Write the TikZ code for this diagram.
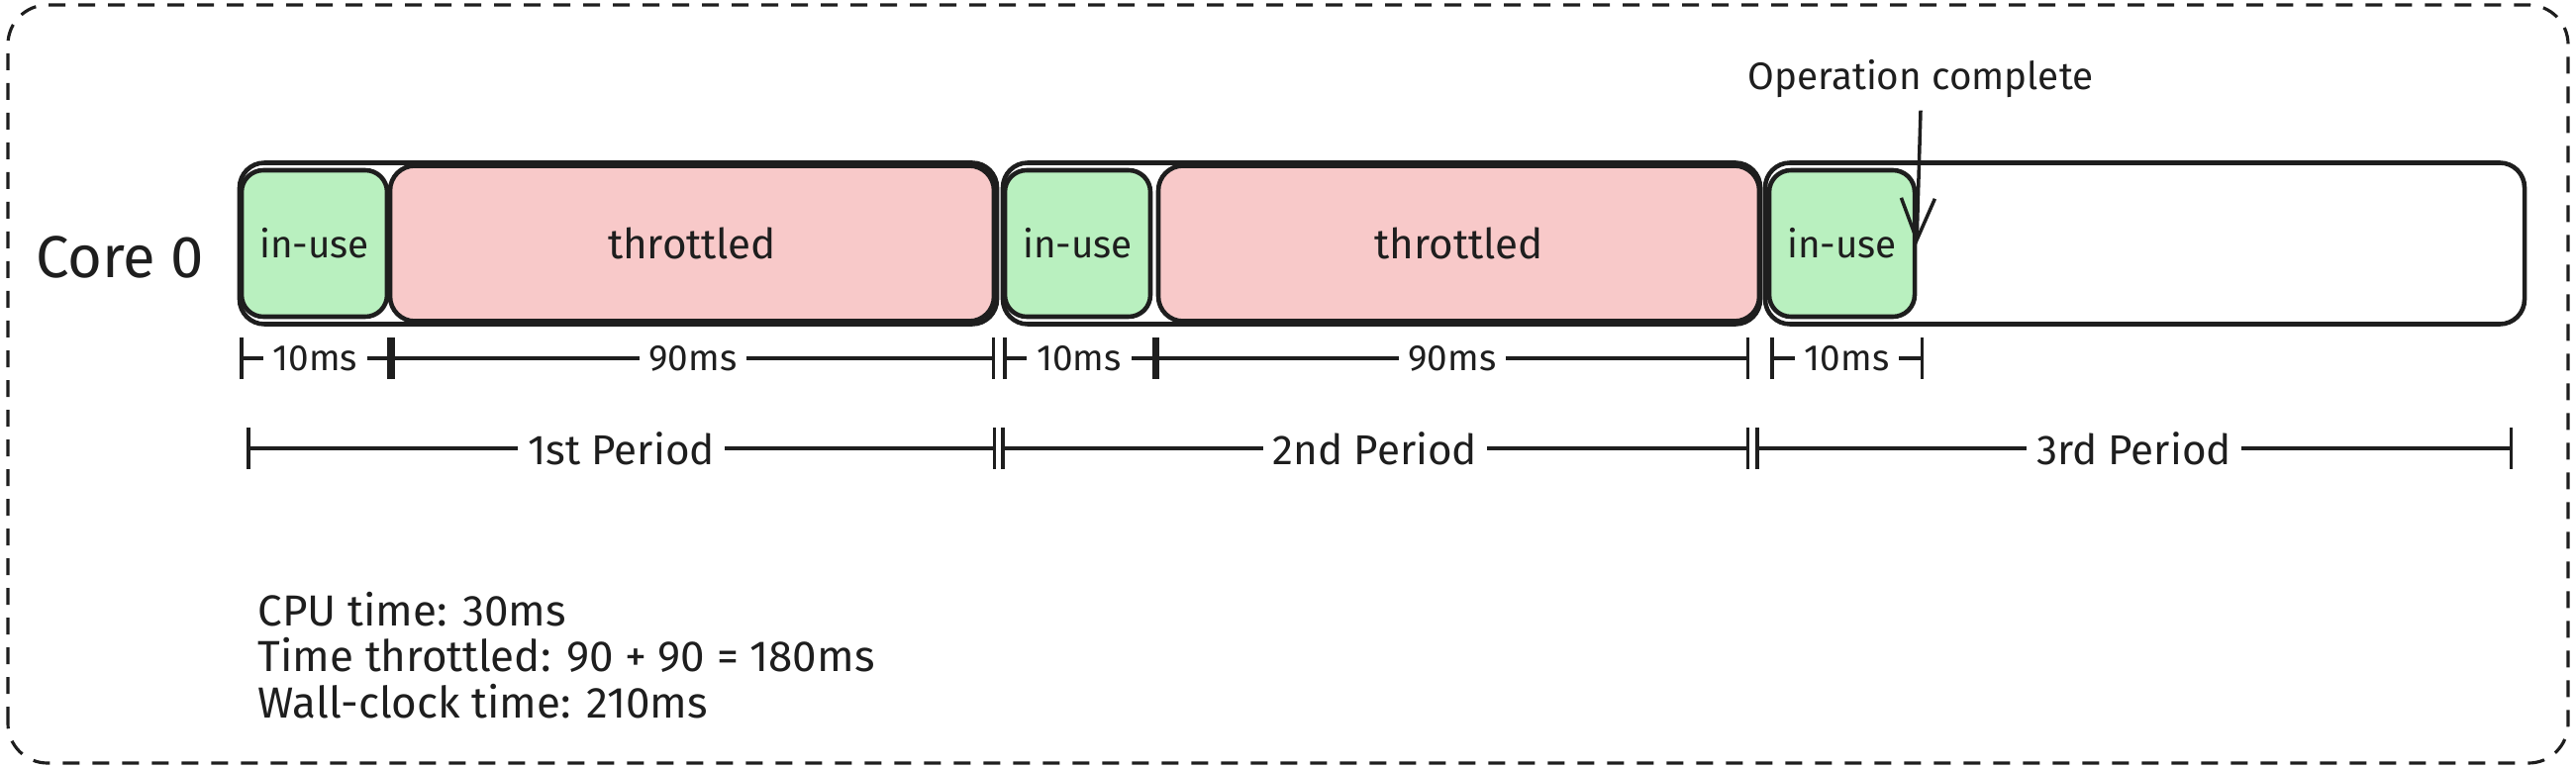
\documentclass[tikz,border=0pt]{standalone}
\usepackage{fontspec}
\setmainfont{Fira Sans}
\usetikzlibrary{arrows.meta,positioning}
\definecolor{ink}{HTML}{1E1E1E}
\definecolor{usegreen}{HTML}{B9F0BF}
\definecolor{throtred}{HTML}{F8C9C9}

\begin{document}
\begin{tikzpicture}[font=\fontsize{12}{13.2}\selectfont]

\tikzstyle{period} = [rectangle, rounded corners=0.25cm, minimum height=1.63cm, minimum width=7.65cm, outer sep=0pt, draw=ink, line width=1.3pt]
\tikzstyle{inuse} = [rectangle, rounded corners=0.22cm, minimum height=1.48cm, minimum width=1.47cm, outer sep=0pt, draw=ink, fill=usegreen, line width=1.3pt, text=ink, font=\fontsize{11}{13}\selectfont]
\tikzstyle{throt} = [rectangle, rounded corners=0.25cm, minimum height=1.57cm, minimum width=6.1cm, outer sep=0pt, draw=ink, fill=throtred, line width=1.3pt, text=ink]
\tikzstyle{dim} = [draw=ink, line width=1pt, {Bar[width=0.42cm]}-{Bar[width=0.42cm]}]
\tikzstyle{lbl} = [fill=white, inner sep=0.1cm, text=ink]
\tikzstyle{mslbl} = [lbl, font=\fontsize{10.5}{12}\selectfont]
\useasboundingbox (0,0) rectangle (26.02,7.76);
\draw[ink, line width=0.9pt, dash pattern=on 0.17cm off 0.13cm, rounded corners=0.4cm] (0.08,0.05) rectangle (25.94,7.71);

\node (p1) [period] at (6.245,5.30) {};
\node (p2) [period, right=0.06cm of p1] {};
\node (p3) [period, right=0.05cm of p2, minimum width=7.67cm] {};
\node (u1) [inuse, anchor=west] at ([xshift=0.02cm]p1.west) {in-use};
\node (t1) [throt, right=0.03cm of u1] {throttled};
\node (u2) [inuse, anchor=west] at ([xshift=0.02cm]p2.west) {in-use};
\node (t2) [throt, right=0.08cm of u2, minimum width=6.07cm] {throttled};
\node (u3) [inuse, anchor=west] at ([xshift=0.04cm]p3.west) {in-use};
\node (core) [left=0.35cm of p1, yshift=-0.14cm, inner sep=0pt, text=ink, font=\fontsize{17}{20}\selectfont] {Core 0};

% operation marker
\node (op) [text=ink, font=\fontsize{11}{13}\selectfont] at (19.40,6.96) {Operation complete};
\coordinate (done) at (19.36,5.29);
\draw[ink, line width=1pt, -{Straight Barb[length=0.42cm, width=0.34cm]}] (op.south) -- (done);

% slice lengths
\coordinate (r1a) at (2.42,4.14);
\coordinate (r1b) at (3.95,4.14);
\coordinate (r1c) at (10.05,4.14);
\coordinate (r1d) at (10.13,4.14);
\coordinate (r1e) at (11.67,4.14);
\coordinate (r1f) at (17.67,4.14);
\coordinate (r1g) at (17.88,4.14);
\coordinate (r1h) at (19.43,4.14);
\draw[dim] (r1a) -- node[mslbl] {10ms} (r1b);
\draw[dim] (r1b) -- node[mslbl] {90ms} (r1c);
\draw[dim] (r1d) -- node[mslbl] {10ms} (r1e);
\draw[dim] (r1e) -- node[mslbl] {90ms} (r1f);
\draw[dim] (r1g) -- node[mslbl] {10ms} (r1h);

% periods
\coordinate (r2a) at (2.49,3.23);
\coordinate (r2b) at (10.06,3.23);
\coordinate (r2c) at (10.11,3.23);
\coordinate (r2d) at (17.67,3.23);
\coordinate (r2e) at (17.73,3.23);
\coordinate (r2f) at (25.38,3.23);
\draw[dim] (r2a) -- node[lbl] {1st Period} (r2b);
\draw[dim] (r2c) -- node[lbl] {2nd Period} (r2d);
\draw[dim] (r2e) -- node[lbl] {3rd Period} (r2f);

\node (summary) [anchor=west, align=left, inner sep=0pt, text=ink, font=\fontsize{12.5}{13.2}\selectfont] at (2.60,1.14) {CPU time: 30ms\\Time throttled: 90 + 90 = 180ms\\Wall-clock time: 210ms};
\end{tikzpicture}
\end{document}
